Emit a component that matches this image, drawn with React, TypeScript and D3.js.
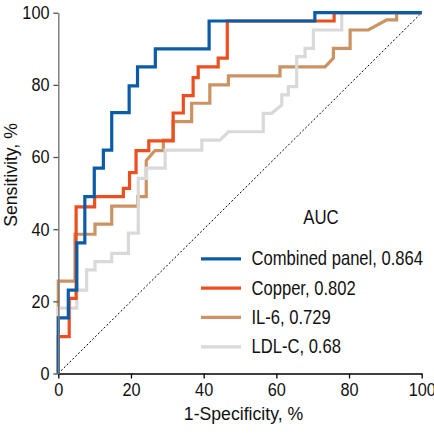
import React, { useRef, useEffect } from 'react';
import * as d3 from 'd3';

// ROC curves: [1-specificity %, sensitivity %]
const combinedPanel: [number, number][] = [
  [0, 0], [0, 15.4], [2.75, 15.4], [2.75, 23.1], [5.1, 23.1], [5.1, 36.2], [7.3, 36.2], [7.3, 49],
  [9.9, 49], [9.9, 56.9], [12.4, 56.9], [12.4, 61.9], [14.7, 61.9], [14.7, 72.3], [19.5, 72.3],
  [19.5, 79.7], [21.8, 79.7], [21.8, 85], [26.7, 85], [26.7, 90], [41.5, 90], [41.5, 97.7],
  [70.6, 97.7], [70.6, 100], [100, 100],
];
const copper: [number, number][] = [
  [0, 0], [0, 10.2], [3.0, 10.2], [3.0, 20.8], [4.9, 20.8], [4.9, 46.2], [10.0, 46.2], [10.0, 49.0],
  [17.9, 49.0], [17.9, 51.3], [19.6, 51.3], [19.6, 55.7], [21.4, 55.7], [21.4, 61.8], [24.9, 61.8],
  [24.9, 64.5], [31.6, 64.5], [31.6, 72.2], [34.4, 72.2], [34.4, 77], [37.1, 77], [37.1, 82],
  [38.5, 82], [38.5, 85], [44, 85], [44, 87.4], [46.5, 87.4], [46.5, 97.7], [75.9, 97.7],
  [75.9, 100], [100, 100],
];
const il6: [number, number][] = [
  [0, 0], [0, 25.6], [4.6, 25.6], [4.6, 38.6], [10.1, 38.6], [10.1, 41.4], [14.7, 41.4], [14.7, 46.4],
  [21.9, 46.4], [21.9, 49.0], [24.2, 49.0], [24.2, 59.0], [26.6, 61.8], [28.9, 61.8], [28.9, 64.7],
  [31.6, 64.7], [31.6, 69.8], [36.7, 69.8], [36.7, 74.9], [41.7, 74.9], [41.7, 80.0], [46.8, 80.0],
  [46.8, 82.5], [61.0, 82.5], [61.0, 85.0], [73.4, 85.0], [75.7, 87.4], [75.7, 90.1], [80.3, 90.1],
  [80.3, 95.2], [85.3, 95.2], [90.4, 98.0], [93.1, 98.0], [93.1, 100], [100, 100],
];
const ldlC: [number, number][] = [
  [0, 0], [0, 18.1], [5.1, 18.1], [5.1, 23.1], [7.8, 23.1], [7.8, 28.7], [10.1, 28.7], [10.1, 31.0],
  [14.7, 31.0], [14.7, 33.3], [19.3, 33.3], [19.3, 38.9], [22, 38.9], [22, 54.1], [24.3, 54.1],
  [24.3, 56.9], [29.4, 56.9], [29.4, 61.9], [39.5, 61.9], [39.5, 64.7], [44.5, 64.7], [46.8, 67.0],
  [56.4, 67.0], [56.4, 72.1], [58.7, 72.1], [61.5, 74.4], [61.5, 77.2], [63.3, 77.2], [63.3, 79.5],
  [65.6, 79.5], [65.6, 87.8], [67.9, 87.8], [67.9, 90.1], [70.2, 90.1], [70.2, 95.2], [78, 95.2],
  [78, 100], [100, 100],
];

const seriesNames = ['Combined panel', 'Copper', 'IL-6', 'LDL-C'];
const aucValues = ['0.864', '0.802', '0.729', '0.68'];
const seriesData = [combinedPanel, copper, il6, ldlC];
const seriesColors = ['#0b5ca6', '#ec4f1f', '#cb9262', '#d9d9d9'];
const drawOrder = [2, 3, 1, 0]; // bottom to top

const tickValues = [0, 20, 40, 60, 80, 100];
const diagonal: [number, number][] = [[0, 0], [100, 100]];

// the reference uses a narrow face; squeeze Liberation Sans horizontally
const FONT = '"Liberation Sans", Arial, sans-serif';

const RocChart = () => {
  const ref = useRef<SVGSVGElement>(null);

  useEffect(() => {
    const svg = d3.select(ref.current);
    svg.selectAll('*').remove();

    const x = d3.scaleLinear().domain([0, 100]).range([58.3, 421.7]);
    const y = d3.scaleLinear().domain([0, 100]).range([373.5, 12.7]);

    const line = d3.line<[number, number]>()
      .x(d => x(d[0]))
      .y(d => y(d[1]));

    const narrowText = (tx: number, ty: number, txt: string, size: number, squeeze: number, anchor = 'start', rotate = 0) =>
      svg.append('g')
        .attr('transform', `translate(${tx}, ${ty}) rotate(${rotate}) scale(${squeeze}, 1)`)
        .append('text')
        .attr('text-anchor', anchor)
        .attr('font-family', FONT)
        .attr('font-size', size)
        .attr('fill', '#111')
        .text(txt);

    // chance line
    svg.append('path')
      .attr('d', line(diagonal))
      .attr('fill', 'none')
      .attr('stroke', '#000')
      .attr('stroke-width', 1)
      .attr('stroke-dasharray', '2,2');

    // curves
    drawOrder.forEach(i => {
      svg.append('path')
        .attr('d', line(seriesData[i]))
        .attr('fill', 'none')
        .attr('stroke', seriesColors[i])
        .attr('stroke-width', 3.2)
        .attr('stroke-linejoin', 'miter');
    });

    // axes
    const xAxis = svg.append('g')
      .attr('transform', `translate(0, ${y(0)})`)
      .call(d3.axisBottom(x).tickValues(tickValues).tickSize(5).tickPadding(4).tickSizeOuter(0));
    xAxis.select('.domain').attr('stroke', '#000').attr('stroke-width', 1.5);
    xAxis.selectAll('.tick line').attr('stroke', '#000').attr('stroke-width', 1.3);

    const yAxis = svg.append('g')
      .attr('transform', `translate(${x(0)}, 0)`)
      .call(d3.axisLeft(y).tickValues(tickValues).tickSize(5).tickPadding(5).tickSizeOuter(0));
    yAxis.select('.domain').attr('stroke', '#808080').attr('stroke-width', 1.5);
    yAxis.selectAll('.tick line').attr('stroke', '#555').attr('stroke-width', 1.3);

    svg.selectAll('.tick text')
      .attr('font-family', FONT)
      .attr('font-size', 18.5)
      .attr('transform', 'scale(0.88, 1)')
      .attr('fill', '#111');

    // axis titles
    narrowText(243.5, 420, '1-Specificity, %', 19, 0.93, 'middle');
    narrowText(17, 175, 'Sensitivity, %', 19, 0.93, 'middle', -90);

    // legend
    narrowText(321, 224, 'AUC', 20, 0.84, 'middle');

    const rowY = d3.scaleLinear().domain([0, 3]).range([265.3, 353.3]);
    seriesNames.forEach((name, i) => {
      svg.append('line')
        .attr('x1', 201).attr('x2', 241)
        .attr('y1', rowY(i) - 6.5).attr('y2', rowY(i) - 6.5)
        .attr('stroke', seriesColors[i])
        .attr('stroke-width', 3.2);
      narrowText(251.5, rowY(i), `${name}, ${aucValues[i]}`, 20, 0.83);
    });
  }, []);

  return (
    <svg
      ref={ref}
      width={434}
      height={434}
      style={{ position: 'absolute', left: 0, top: 0, background: '#fff' }}
    />
  );
};

export default function App() {
  return <RocChart />;
}
